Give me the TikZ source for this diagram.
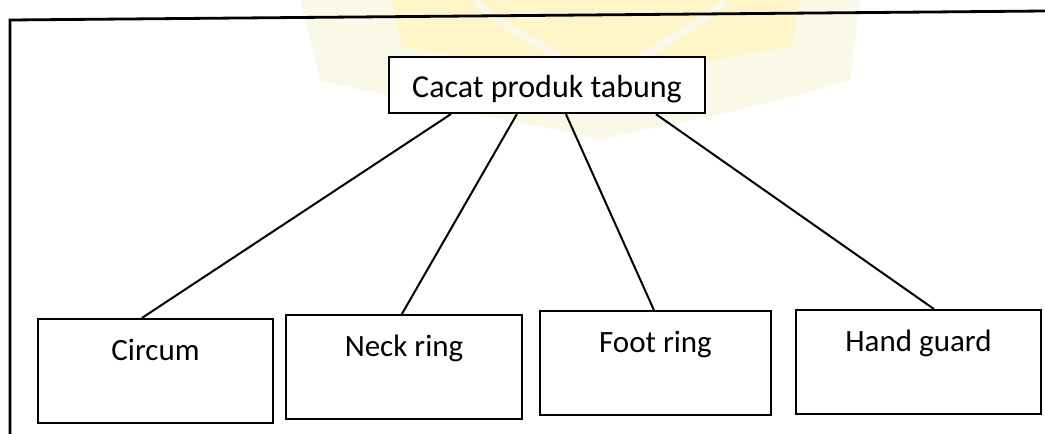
\documentclass[tikz,border=0pt]{standalone}
\usepackage{fontspec}
\setmainfont{Carlito}
\usetikzlibrary{calc}
\definecolor{wmyellow}{RGB}{255,245,200}
\definecolor{wmpale}{RGB}{250,248,230}

\begin{document}
\begin{tikzpicture}[x=0.5pt,y=-0.5pt]
	 \tikzstyle{box}=[draw,rectangle,line width=1.1pt,inner xsep=0pt,inner ysep=0pt]
	 \tikzstyle{root}=[box,fill=white,text height=20pt,text depth=8pt,font=\fontsize{16}{19}\selectfont]
	 \tikzstyle{leaf}=[box,anchor=north,text height=20.5pt,text depth=31.5pt,font=\fontsize{15.5}{18}\selectfont]
	 \tikzstyle{edge}=[draw,line width=1pt,-,black]
	 \tikzstyle{frame}=[draw,line width=1.4pt,black]
	 \useasboundingbox (0,0) rectangle (1045,434);
	 % faint logo behind the chart
	 \fill[wmpale] (300,0) -- (860,0) -- (850,80)
		.. controls (760,110) and (680,120) .. (600,140)
		.. controls (520,120) and (440,110) .. (320,80) -- cycle;
	 \fill[wmyellow] (392,0) -- (800,0) -- (792,46)
		.. controls (720,58) and (650,70) .. (600,96)
		.. controls (550,70) and (470,58) .. (402,46) -- cycle;
	 \draw[wmpale,line width=4pt] (475,0) .. controls (500,30) and (560,45) .. (598,95);
	 \draw[wmpale,line width=4pt] (725,0) .. controls (700,30) and (640,45) .. (602,95);
	 % outer frame
	 \draw[frame] (10,434) -- (10,20) -- (1045,11);
	 \node[root,minimum width=158pt] (top) at (547,85) {Cacat produk tabung};
	 \node[leaf,minimum width=117.5pt] (circum) at (155.5,318) {Circum};
	 \node[leaf,minimum width=118pt] (neck) at (404,314) {Neck ring};
	 \node[leaf,minimum width=115.5pt] (foot) at (655.5,310) {Foot ring};
	 \node[leaf,minimum width=122.5pt] (hand) at (918.5,309) {Hand guard};
	 \draw[edge] ($(top.south west)+(63,0)$) -- ($(circum.north west)+(105,0)$);
	 \draw[edge] ($(top.south west)+(129,0)$) -- ($(neck.north west)+(117,0)$);
	 \draw[edge] ($(top.south west)+(178,0)$) -- ($(foot.north west)+(115,0)$);
	 \draw[edge] ($(top.south west)+(268,0)$) -- ($(hand.north west)+(139,0)$);
 \end{tikzpicture}
\end{document}
